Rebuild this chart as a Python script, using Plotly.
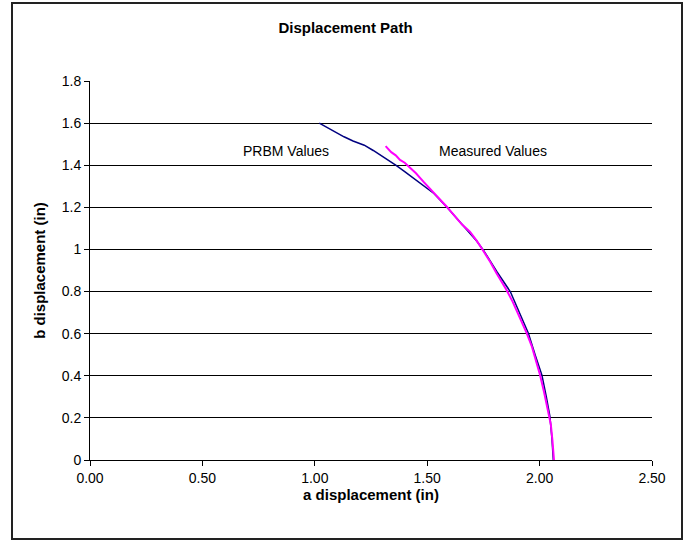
import plotly.graph_objects as go

# PRBM model path
prbm_x = [1.02, 1.07, 1.13, 1.17, 1.22, 1.26, 1.30, 1.36, 1.40, 1.45, 1.50, 1.53, 1.59, 1.63,
          1.68, 1.72, 1.75, 1.81, 1.87, 1.91, 1.95, 1.98, 2.01, 2.03, 2.046, 2.055, 2.06, 2.061]
prbm_y = [1.60, 1.57, 1.535, 1.515, 1.495, 1.47, 1.443, 1.40, 1.37, 1.33, 1.29, 1.266, 1.198, 1.15,
          1.092, 1.04, 0.997, 0.894, 0.799, 0.70, 0.602, 0.50, 0.404, 0.30, 0.206, 0.10, 0.03, 0.0]

# Measured path
meas_x = [1.315, 1.34, 1.36, 1.379, 1.40, 1.423, 1.45, 1.483, 1.51, 1.54, 1.587, 1.62, 1.655, 1.69,
          1.72, 1.747, 1.78, 1.809, 1.835, 1.853, 1.88, 1.91, 1.943, 1.965, 1.985, 2.002, 2.02,
          2.039, 2.05, 2.057, 2.061, 2.063, 2.064]
meas_y = [1.491, 1.462, 1.447, 1.425, 1.412, 1.388, 1.362, 1.322, 1.292, 1.255, 1.203, 1.162, 1.118,
          1.084, 1.042, 0.997, 0.942, 0.886, 0.842, 0.807, 0.752, 0.682, 0.601, 0.541, 0.472, 0.404,
          0.322, 0.222, 0.168, 0.095, 0.052, 0.022, 0.0]

x_ticks = [0, 0.5, 1.0, 1.5, 2.0, 2.5]
y_ticks = [0, 0.2, 0.4, 0.6, 0.8, 1.0, 1.2, 1.4, 1.6, 1.8]

FONT = "Arial, Liberation Sans, sans-serif"

fig = go.Figure()
fig.add_trace(go.Scatter(x=prbm_x, y=prbm_y, mode="lines", name="PRBM Values",
                         line=dict(color="#000080", width=1.5)))
fig.add_trace(go.Scatter(x=meas_x, y=meas_y, mode="lines", name="Measured Values",
                         line=dict(color="#FF00FF", width=2)))

fig.update_layout(
    width=691, height=541,
    margin=dict(l=90, r=39, t=81, b=81),
    paper_bgcolor="white", plot_bgcolor="white",
    showlegend=False,
    font=dict(family=FONT, size=14, color="black"),
    title=dict(text="<b>Displacement Path</b>", x=0.5, xref="container", y=1 - 28 / 541,
               yref="container", xanchor="center", yanchor="middle",
               font=dict(family=FONT, size=15, color="black")),
)

fig.update_xaxes(
    range=[0, 2.5], tickvals=x_ticks, tickformat=".2f",
    showgrid=False, zeroline=False,
    showline=True, linecolor="black", linewidth=1,
    ticks="outside", ticklen=5, tickcolor="black",
    tickfont=dict(family=FONT, size=14, color="black"),
    title=dict(text="<b>a displacement (in)</b>", standoff=4,
               font=dict(family=FONT, size=15, color="black")),
)
fig.update_yaxes(
    range=[0, 1.8], tickvals=y_ticks,
    showgrid=True, gridcolor="black", gridwidth=1, zeroline=False,
    showline=True, linecolor="black", linewidth=1,
    ticks="outside", ticklen=5, tickcolor="black",
    tickfont=dict(family=FONT, size=14, color="black"),
    title=dict(text="<b>b displacement (in)</b>", standoff=12,
               font=dict(family=FONT, size=15, color="black")),
)

fig.add_annotation(x=0.87, y=1.467, text="PRBM Values", showarrow=False,
                   font=dict(family=FONT, size=14, color="black"))
fig.add_annotation(x=1.793, y=1.467, text="Measured Values", showarrow=False,
                   font=dict(family=FONT, size=14, color="black"))

# outer chart border
fig.add_shape(type="rect", xref="paper", yref="paper",
              x0=(12 - 90) / 562, x1=(682 - 90) / 562,
              y0=(460 - 539) / 379, y1=(460 - 3) / 379,
              line=dict(color="#222222", width=2), fillcolor="rgba(0,0,0,0)", layer="below")

fig.write_html("out.html", config={"displayModeBar": False},
               post_script="document.body.style.margin='0';document.body.style.overflow='hidden';")
